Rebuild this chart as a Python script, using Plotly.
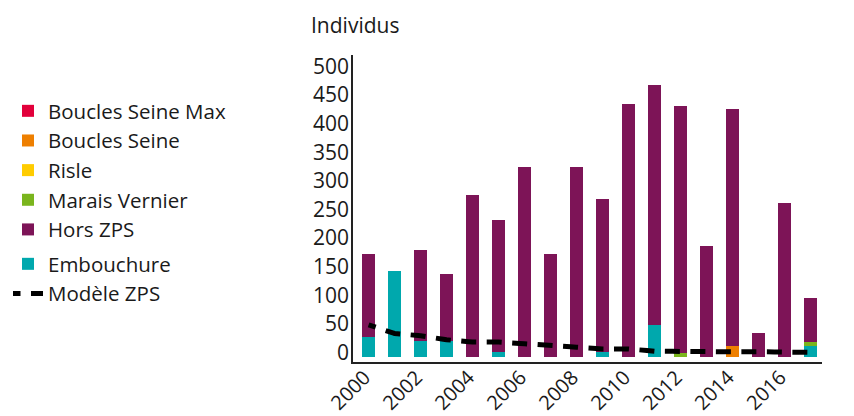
import plotly.graph_objects as go

years = list(range(2000, 2018))
embouchure = [36, 151, 29, 28, 0, 10, 0, 0, 0, 9, 0, 56, 0, 0, 0, 0, 0, 20]
boucles_seine = [0, 0, 0, 0, 0, 0, 0, 0, 0, 0, 0, 0, 0, 0, 20, 0, 0, 0]
marais_vernier = [0, 0, 0, 0, 0, 0, 0, 0, 0, 0, 0, 0, 7, 0, 0, 0, 0, 7]
risle = [0] * 18
boucles_seine_max = [0] * 18
hors_zps = [145, 0, 159, 118, 284, 230, 333, 181, 333, 268, 443, 420, 433, 195, 414, 42, 270, 77]
modele_zps = [57, 42, 38, 31, 27, 27, 24, 20, 18, 15, 15, 11, 10, 10, 10, 10, 9, 9]
tick_years = [2000, 2002, 2004, 2006, 2008, 2010, 2012, 2014, 2016]
y_ticks = [0, 50, 100, 150, 200, 250, 300, 350, 400, 450, 500]

FONT = "Open Sans"
C_RED = "#E2003B"
C_ORANGE = "#EE7F00"
C_YELLOW = "#FFCC00"
C_GREEN = "#7AB51D"
C_PURPLE = "#7D1457"
C_TEAL = "#00A8AD"

# the page has an 8px body margin: figure coords = screen coords - 8
OFF = 8
W, H = 854, 416

fig = go.Figure()
bw = 0.5

def bar(name, vals, color, legend, rank):
    fig.add_trace(go.Bar(x=years, y=vals, name=name, marker=dict(color=color, line=dict(width=0)),
                         width=bw, legend=legend, legendrank=rank, legendgroup=name))

bar("Embouchure", embouchure, C_TEAL, "legend2", 1)
bar("Boucles Seine", boucles_seine, C_ORANGE, "legend", 2)
bar("Marais Vernier", marais_vernier, C_GREEN, "legend", 4)
bar("Risle", risle, C_YELLOW, "legend", 3)
bar("Boucles Seine Max", boucles_seine_max, C_RED, "legend", 1)
bar("Hors ZPS", hors_zps, C_PURPLE, "legend", 5)

fig.add_trace(go.Scatter(x=years, y=modele_zps, mode="lines", name="Modèle ZPS",
                         line=dict(color="black", width=5, dash="7.5px,10.5px,7.5px,0px"),
                         legend="legend2", legendrank=2, legendgroup="m"))

LEG_FS = 20.5

fig.update_layout(
    width=W, height=H,
    margin=dict(l=353 - OFF, r=32 + OFF, t=55 - OFF, b=54 + OFF),
    barmode="stack",
    paper_bgcolor="white", plot_bgcolor="white",
    font=dict(family=FONT, size=20, color="#1a1a1a"),
    title=dict(text="Individus", x=(311 - OFF) / W, xref="container", xanchor="left",
               y=1 - (26 - OFF) / H, yref="container", yanchor="middle",
               font=dict(family=FONT, size=21, color="#1a1a1a")),
    legend=dict(xref="container", yref="container", x=0, y=1 - 83 / H, xanchor="left", yanchor="top",
                font=dict(family=FONT, size=LEG_FS, color="#1a1a1a"), traceorder="normal",
                bgcolor="rgba(0,0,0,0)", itemclick=False),
    legend2=dict(xref="container", yref="container", x=0, y=1 - 236 / H, xanchor="left", yanchor="top",
                 font=dict(family=FONT, size=LEG_FS, color="#1a1a1a"), traceorder="normal",
                 bgcolor="rgba(0,0,0,0)", itemclick=False, tracegroupgap=0),
    xaxis=dict(range=[1999.4, 2017.45], tickmode="array", tickvals=tick_years,
               ticktext=[str(y) for y in tick_years], tickangle=-45, showgrid=False,
               showline=True, linecolor="#222", linewidth=1.5, ticks="", zeroline=False,
               automargin=False, ticklabelstandoff=-6, ticklabelshift=-4,
               tickfont=dict(family=FONT, size=20)),
    yaxis=dict(range=[-7.9, 528.8], tickmode="array", tickvals=y_ticks, showgrid=False,
               showline=True, linecolor="#222", linewidth=1.5, ticks="", zeroline=False,
               automargin=False, ticklabelshift=-5, ticklabelstandoff=-2,
               tickfont=dict(family=FONT, size=21)),
)

fig.write_html("out.html")
